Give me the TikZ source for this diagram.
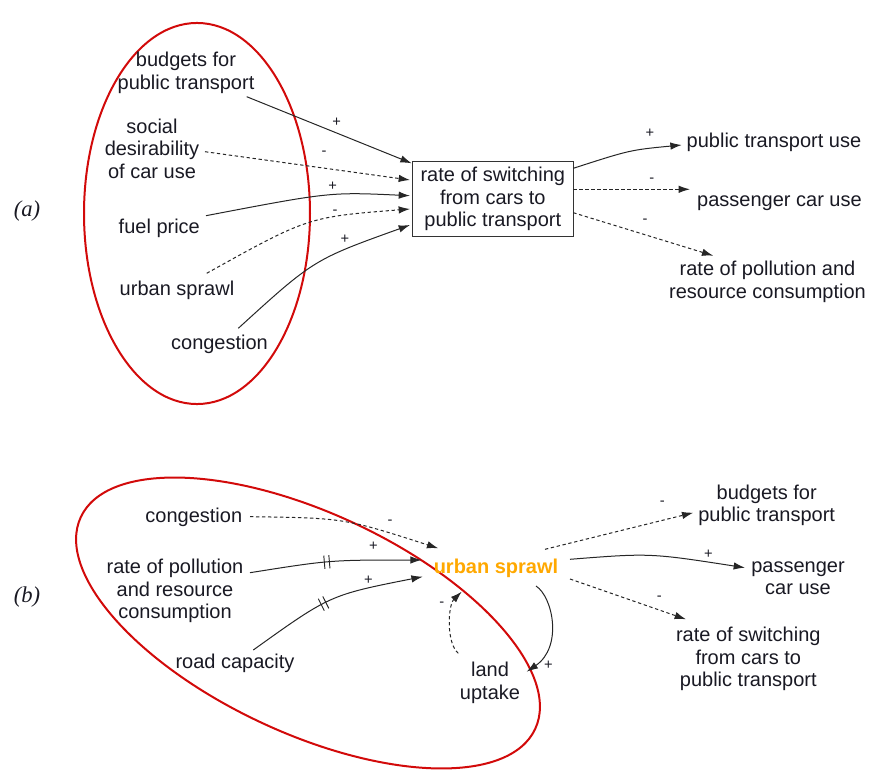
\documentclass[tikz,border=0pt]{standalone}
\usepackage{fontspec}
\setmainfont{Liberation Sans}
\newfontfamily\lserif{Liberation Serif}
\usetikzlibrary{arrows.meta,calc,decorations.markings}
\definecolor{ellred}{RGB}{210,10,10}
\definecolor{sprawl}{RGB}{255,168,0}
\definecolor{ink}{RGB}{25,25,35}
\tikzset{
  lbl/.style={font=\fontsize{15}{16.9}\selectfont, align=center, inner sep=0pt, text=ink, yshift=-1.5pt},
  sgn/.style={font=\fontsize{11}{13}\selectfont, inner sep=0pt, text=ink},
  tag/.style={font=\lserif\itshape\fontsize{17}{20}\selectfont, inner sep=0pt, text=ink},
  conn/.style={-{Latex[length=8.5pt,width=5.6pt]}, line width=0.75pt, draw=black!85},
  dots/.style={conn, dash pattern=on 2.5pt off 2pt},
  redell/.style={draw=ellred, line width=1.5pt},
  hashed/.style={postaction={decorate}, decoration={markings,
     mark=at position 0.45 with {\draw[-,line width=0.7pt,solid] (-1.9pt,-5pt) -- (-1.9pt,5pt) (1.9pt,-5pt) -- (1.9pt,5pt);}}}
}
\begin{document}
\begin{tikzpicture}[x=0.75pt,y=-0.75pt]
\useasboundingbox (0,0) rectangle (869,771);

% ---------------- (a) ----------------
\node[tag] (taga) at (27,211) {(a)};
\draw[redell] (197,213.5) ellipse [x radius=84.75pt, y radius=142.9pt];

\node[lbl] (abud) at (186,71) {budgets for\\public transport};
\node[lbl] (asoc) at (152,146.7) {social\\desirability\\of car use};
\node[lbl] (afuel) at (159.3,226.7) {fuel price};
\node[lbl] (aurb) at (177,288.3) {urban sprawl};
\node[lbl] (acong) at (219.5,342.7) {congestion};
\node[lbl, yshift=1.5pt, draw=black!80, line width=0.8pt, minimum width=120.75pt, minimum height=56.25pt] (box) at (492.8,199.2) {rate of switching\\from cars to\\public transport};
\node[lbl] (aptu) at (774,140.7) {public transport use};
\node[lbl] (apcu) at (779.5,200.7) {passenger car use};
\node[lbl] (apol) at (767.5,279.7) {rate of pollution and\\resource consumption};

\draw[conn] ($(abud)+(60.7,23.7)$) -- ($(box)+(-81.1,-35.9)$);
\draw[dots] ($(asoc)+(53,3)$) -- ($(box)+(-82.8,-19.2)$);
\draw[conn] ($(afuel)+(46.7,-13)$) .. controls (330,192) .. ($(box)+(-82.8,-3.5)$);
\draw[dots] ($(aurb)+(29.7,-17)$) .. controls (308,217) .. ($(box)+(-82.8,9.8)$);
\draw[conn] ($(acong)+(18.8,-16.4)$) .. controls (313.7,259.6) .. ($(box)+(-82.8,25.8)$);
\draw[conn] ($(box)+(80.5,-30.9)$) .. controls (630,150) .. ($(aptu)+(-92.3,2.3)$);
\draw[dots] ($(box)+(80.5,-9.9)$) -- ($(apcu)+(-89.5,-13.4)$);
\draw[dots] ($(box)+(80.5,13.5)$) -- ($(apol)+(-54.2,-26)$);

\node[sgn] (s1) at (336.7,122.7) {+};
\node[sgn] (s2) at (324,153.3) {-};
\node[sgn] (s3) at (332.7,186.7) {+};
\node[sgn] (s4) at (335,212.7) {-};
\node[sgn] (s5) at (345,239.3) {+};
\node[sgn] (s6) at (650,133.3) {+};
\node[sgn] (s7) at (651.7,180) {-};
\node[sgn] (s8) at (645,221.7) {-};

% ---------------- (b) ----------------
\node[tag] (tagb) at (27,596.7) {(b)};
\draw[redell, rotate around={-25:(308,623)}] (308,623) ellipse [x radius=188pt, y radius=82.5pt];

\node[lbl] (bcong) at (193.8,515) {congestion};
\node[lbl] (bpol) at (175,589) {rate of pollution\\and resource\\consumption};
\node[lbl] (broad) at (235,661.7) {road capacity};
\node[lbl, text=sprawl, font=\bfseries\fontsize{15}{16.9}\selectfont] (burb) at (496,566.7) {urban sprawl};
\node[lbl] (bland) at (490,681) {land\\uptake};
\node[lbl] (bbud) at (766.7,503.3) {budgets for\\public transport};
\node[lbl] (bpcu) at (798,576.3) {passenger\\car use};
\node[lbl] (brate) at (748.3,657) {rate of switching\\from cars to\\public transport};

\draw[dots] ($(bcong)+(56.2,-0.3)$) .. controls (344,518) .. ($(burb)+(-57.7,-20.4)$);
\draw[conn, hashed] ($(bpol)+(75,-18.3)$) .. controls (330,560) .. ($(burb)+(-74.3,-8.7)$);
\draw[conn, hashed] ($(broad)+(18.3,-13.7)$) .. controls (330,595) .. ($(burb)+(-73.3,8)$);
\draw[dots] ($(burb)+(49,-19.4)$) -- ($(bbud)+(-73.4,7.4)$);
\draw[conn] ($(burb)+(74,-9.4)$) .. controls (650,553) .. ($(bpcu)+(-53,-10.6)$);
\draw[dots] ($(burb)+(74,10.3)$) -- ($(brate)+(-62.3,-39.7)$);
\draw[conn] ($(burb)+(40,17.3)$) .. controls (553,597) and (563,647) .. ($(bland)+(36.7,-11.3)$);
\draw[dots] ($(bland)+(-31.7,-29.7)$) .. controls (446,643) and (448,605) .. ($(burb)+(-34.3,23)$);

\node[sgn] (t1) at (390,522.7) {-};
\node[sgn] (t2) at (373.3,546) {+};
\node[sgn] (t3) at (368.3,580) {+};
\node[sgn] (t4) at (662.3,503.3) {-};
\node[sgn] (t5) at (708.3,554) {+};
\node[sgn] (t6) at (659.3,598.3) {-};
\node[sgn] (t7) at (548.3,665) {+};
\node[sgn] (t8) at (441.7,604) {-};
\end{tikzpicture}
\end{document}
